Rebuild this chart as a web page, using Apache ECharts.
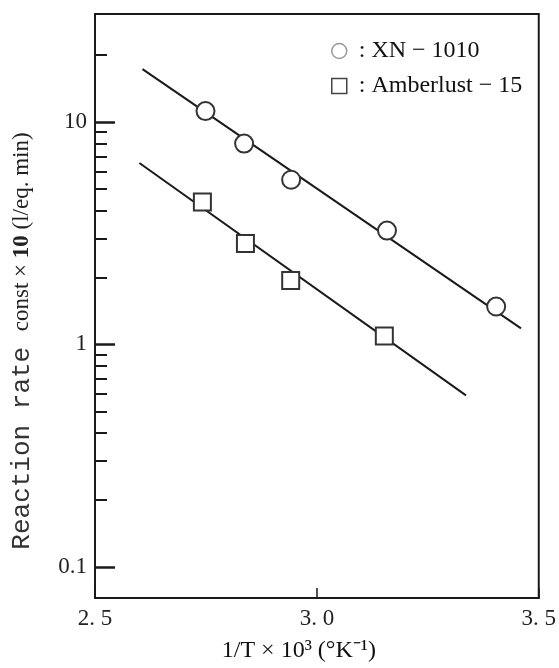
<!DOCTYPE html>
<html>
<head>
<meta charset="utf-8">
<script src="https://cdn.jsdelivr.net/npm/echarts@6/dist/echarts.min.js"></script>
<style>
html, body { margin: 0; padding: 0; background: #fff; }
#chart { width: 559px; height: 668px; }
</style>
</head>
<body>
<div id="chart"></div>
<script>
// measured points, x = 1/T*10^3, y = k*10
var xnPoints = [[2.749, 11.2], [2.836, 8.0], [2.942, 5.5], [3.158, 3.25], [3.404, 1.48]];
var amberPoints = [[2.742, 4.37], [2.839, 2.84], [2.941, 1.94], [3.152, 1.09]];
// ends of the drawn fit lines
var xnFit = [[2.607, 17.3], [3.460, 1.18]];
var amberFit = [[2.600, 6.54], [3.336, 0.59]];
var yMajor = [0.1, 1, 10];
var yMinor = [0.2, 0.3, 0.4, 0.5, 0.6, 0.7, 0.8, 0.9, 2, 3, 4, 5, 6, 7, 8, 9, 20];
var xRange = [2.5, 3.5];
var yRange = [0.0724, 30.6];

var serif = 'Liberation Serif';
var ink = '#1a1a1a';

var chart = echarts.init(document.getElementById('chart'));
var option = {
	backgroundColor: '#fff',
	animation: false,
	grid: {
		left: 95,
		right: 14,
		top: 14,
		bottom: 69,
		show: true,
		borderColor: ink,
		borderWidth: 2
	},
	legend: {
		orient: 'vertical',
		left: 326,
		top: 34,
		itemWidth: 15,
		itemHeight: 15,
		itemGap: 11,
		selectedMode: false,
		formatter: function (name) {
			return ': ' + name;
		},
		textStyle: {
			fontFamily: serif,
			fontSize: 24,
			color: '#111',
			padding: [0, 0, 0, 7]
		},
		data: [
			{ name: 'XN − 1010', icon: 'circle', itemStyle: { color: '#fff', borderColor: '#999', borderWidth: 1.5 } },
			{ name: 'Amberlust − 15', icon: 'rect', itemStyle: { color: '#fff', borderColor: '#444', borderWidth: 1.5 } }
		]
	},
	xAxis: {
		type: 'value',
		min: xRange[0],
		max: xRange[1],
		interval: 0.5,
		name: '1/T × 10³ (°K⁻¹)',
		nameLocation: 'middle',
		nameGap: 41,
		nameTextStyle: {
			fontFamily: serif,
			fontSize: 24,
			color: '#111',
			padding: [0, 36, 0, 0]
		},
		axisLine: { lineStyle: { color: ink, width: 2 } },
		axisTick: { inside: true, length: 10, lineStyle: { color: ink, width: 1.5 } },
		axisLabel: {
			margin: 9,
			fontFamily: serif,
			fontSize: 23,
			color: '#222',
			formatter: function (v) {
				return v.toFixed(1).replace('.', '. ');
			}
		},
		splitLine: { show: false }
	},
	yAxis: [
		{
			type: 'log',
			logBase: 10,
			min: yRange[0],
			max: yRange[1],
			name: '{a|Reaction rate }{b|const × }{c|10}{b| (l/eq. min)}',
			nameLocation: 'middle',
			nameRotate: 90,
			nameGap: 60,
			nameTextStyle: {
				color: '#222',
				padding: [0, 70, 0, 0],
				rich: {
					a: { fontFamily: 'Liberation Mono', fontSize: 26, color: '#333' },
					b: { fontFamily: serif, fontSize: 23, color: '#222' },
					c: { fontFamily: serif, fontSize: 23, fontWeight: 'bold', color: '#222' }
				}
			},
			axisLine: { show: true, lineStyle: { color: ink, width: 2 } },
			axisTick: {
				inside: true,
				length: 20,
				lineStyle: { color: ink, width: 2.5 },
				customValues: yMajor
			},
			axisLabel: {
				margin: 8,
				fontFamily: serif,
				fontSize: 23,
				color: '#222',
				customValues: yMajor,
				formatter: function (v) {
					return v >= 1 ? String(Math.round(v)) : v.toFixed(1);
				}
			},
			splitLine: { show: false },
			minorTick: { show: false }
		},
		{
			type: 'log',
			logBase: 10,
			min: yRange[0],
			max: yRange[1],
			position: 'left',
			axisLine: { show: false },
			axisTick: {
				inside: true,
				length: 12,
				lineStyle: { color: ink, width: 2 },
				customValues: yMinor
			},
			axisLabel: { show: false },
			splitLine: { show: false }
		}
	],
	series: [
		{
			name: 'fit XN',
			type: 'line',
			data: xnFit,
			symbol: 'none',
			z: 2,
			lineStyle: { color: ink, width: 2 }
		},
		{
			name: 'fit Amberlust',
			type: 'line',
			data: amberFit,
			symbol: 'none',
			z: 2,
			lineStyle: { color: ink, width: 2 }
		},
		{
			name: 'XN − 1010',
			type: 'scatter',
			data: xnPoints,
			symbol: 'circle',
			symbolSize: 18,
			z: 3,
			itemStyle: { color: '#fff', borderColor: '#333', borderWidth: 2, opacity: 1 }
		},
		{
			name: 'Amberlust − 15',
			type: 'scatter',
			data: amberPoints,
			symbol: 'rect',
			symbolSize: 17,
			z: 3,
			itemStyle: { color: '#fff', borderColor: '#333', borderWidth: 2, opacity: 1 }
		}
	]
};
chart.setOption(option);
</script>
</body>
</html>
